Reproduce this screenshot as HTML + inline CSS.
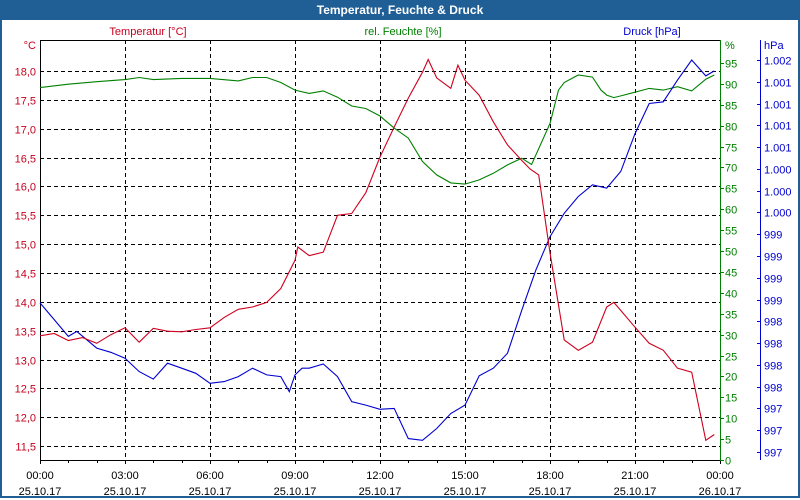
<!DOCTYPE html>
<html><head><meta charset="utf-8"><style>
html,body{margin:0;padding:0;background:#fff}
#wrap{position:relative;width:796px;height:496px;border:2px solid #1f5f95;border-top:none;background:#fff;overflow:hidden}
#title{position:absolute;left:0;top:0;width:796px;height:20px;background:#1f5f95;color:#fff;font:bold 12px "Liberation Sans",sans-serif;text-align:center;line-height:20px}
svg{position:absolute;left:-2px;top:0}
text{font-family:"Liberation Sans",sans-serif;font-size:11px}
</style></head><body>
<div id="wrap">
<div id="title">Temperatur, Feuchte &amp; Druck</div>
<svg id="chart" width="800" height="500"></svg>
</div>
<script>
const tempT=[0,0.5,1,1.5,2,2.5,3,3.5,4,4.5,5,5.5,6,6.5,7,7.5,8,8.5,9,9.1,9.5,10,10.5,11,11.5,12,12.5,13,13.5,13.7,14,14.5,14.75,15,15.5,16,16.5,17,17.3,17.6,18,18.5,19,19.5,20,20.25,20.5,21,21.5,22,22.5,23,23.5,23.8];
const tempV=[13.41,13.45,13.33,13.38,13.28,13.43,13.55,13.3,13.54,13.49,13.48,13.52,13.55,13.73,13.87,13.91,13.99,14.23,14.72,14.95,14.8,14.86,15.5,15.53,15.89,16.51,17.03,17.53,17.98,18.2,17.88,17.7,18.1,17.84,17.58,17.12,16.72,16.45,16.3,16.2,14.85,13.34,13.16,13.3,13.91,13.99,13.85,13.56,13.28,13.16,12.85,12.78,11.6,11.7];
const humT=[0,1,2,3,3.5,4,5,6,7,7.5,8,8.5,9,9.5,10,10.5,11,11.5,12,12.5,13,13.5,14,14.5,15,15.5,16,16.5,17,17.35,18,18.3,18.5,19,19.5,19.8,20,20.25,20.5,21,21.5,22,22.5,23,23.5,23.8];
const humV=[89.1,89.9,90.5,91.0,91.5,91.0,91.3,91.3,90.7,91.5,91.5,90.3,88.5,87.7,88.3,86.8,84.7,84.1,82.3,79.4,77.0,71.4,68.2,66.3,66.0,67.0,68.6,70.6,72.2,70.7,80.5,88.5,90.3,92.1,91.6,88.5,87.3,86.7,87.1,88.0,88.9,88.5,89.3,88.3,91.1,92.1];
const presT=[0,0.5,1,1.3,2,2.5,3,3.5,4,4.5,5,5.5,6,6.5,7,7.5,8,8.5,8.8,9,9.25,9.5,10,10.5,11,11.5,12,12.5,13,13.5,14,14.5,15,15.5,16,16.5,17,17.5,18,18.5,19,19.5,20,20.5,21,21.5,22,22.5,23,23.5,23.8];
const presV=[998.66,998.46,998.26,998.32,998.12,998.07,998.0,997.84,997.75,997.94,997.88,997.82,997.7,997.72,997.78,997.88,997.8,997.78,997.6,997.8,997.88,997.88,997.93,997.78,997.48,997.44,997.39,997.4,997.04,997.02,997.16,997.34,997.44,997.79,997.88,998.06,998.57,999.05,999.45,999.73,999.93,1000.07,1000.03,1000.23,1000.68,1001.04,1001.06,1001.32,1001.56,1001.37,1001.43];
const tempTicks=[18.0,17.5,17.0,16.5,16.0,15.5,15.0,14.5,14.0,13.5,13.0,12.5,12.0,11.5];
const humTicks=[0,5,10,15,20,25,30,35,40,45,50,55,60,65,70,75,80,85,90,95];
const presStart=996.88, presStep=0.26, presCount=19;
const timeLabels=["00:00","03:00","06:00","09:00","12:00","15:00","18:00","21:00","00:00"];
const dateLabels=["25.10.17","25.10.17","25.10.17","25.10.17","25.10.17","25.10.17","25.10.17","25.10.17","26.10.17"];

const L=40,R=720,T=40,B=460;
const X=h=>L+h*(R-L)/24;
const YT=v=>71+(18-v)*57.7;
const YH=v=>460-v*4.18;
const YP=v=>452-(v-presStart)/presStep*21.78;
const svg=document.getElementById('chart');
const NS='http://www.w3.org/2000/svg';
function mk(tag,attrs,parent){const e=document.createElementNS(NS,tag);for(const k in attrs)e.setAttribute(k,attrs[k]);(parent||svg).appendChild(e);return e;}
const grid=mk('g',{});


tempTicks.forEach(v=>{
  const y=Math.round(YT(v))+0.5;
  const gl=mk('line',{x1:L,x2:R,y1:y,y2:y,stroke:'#000','stroke-dasharray':'4,3'},grid);
  
  
  const t=mk('text',{x:36,y:y+4,'text-anchor':'end',fill:'#c8001e'});
  t.textContent=v.toFixed(1).replace('.',',');
  
  
});
for(let h=3;h<24;h+=3){
  const x=Math.round(X(h))+0.5;
  const gl=mk('line',{x1:x,x2:x,y1:T,y2:B,stroke:'#000','stroke-dasharray':'4,3'},grid);
  
  
}
for(let h=0;h<=24;h++){
  const x=Math.round(X(h))+0.5;
  const tk=mk('line',{x1:x,x2:x,y1:B,y2:B+(h%3==0?4:3),stroke:'#000'});
  
  
}
timeLabels.forEach((s,i)=>{
  const x=X(i*3);
  const a=mk('text',{x:x,y:479,'text-anchor':'middle',fill:'#000'});a.textContent=s;
  
  
  const b=mk('text',{x:x,y:495,'text-anchor':'middle',fill:'#000'});b.textContent=dateLabels[i];
  
  
});
// frame
const fr=mk('path',{d:`M${L+0.5},${B}V${T+0.5}H${R}M${L},${B+0.5}H${R}`,stroke:'#000',fill:'none'});


// humidity axis
const ha=mk('line',{x1:R+0.5,x2:R+0.5,y1:T,y2:B+1,stroke:'#008000'});


humTicks.forEach(v=>{
  const y=Math.round(YH(v))+0.5;
  const tk=mk('line',{x1:R,x2:R+4,y1:y,y2:y,stroke:'#008000'});
  
  
  const t=mk('text',{x:R+5,y:y+4,fill:'#008000'});t.textContent=v;
  
  
});
// pressure axis
const pa=mk('line',{x1:760.5,x2:760.5,y1:40,y2:460,stroke:'#0000d0'});


for(let i=0;i<presCount;i++){
  const v=presStart+i*presStep;const y=Math.round(YP(v))+0.5;
  const tk=mk('line',{x1:757,x2:761,y1:y,y2:y,stroke:'#0000d0'});
  
  
  const r=Math.round(v);
  const t=mk('text',{x:764,y:y+4,fill:'#0000d0'});
  t.textContent=r>=1000?('1.'+String(r-1000).padStart(3,'0')):String(r);
  
  
}
// titles
[[148,'Temperatur [°C]','#c8001e','temp-legend'],[403,'rel. Feuchte [%]','#008000','humidity-legend'],[652,'Druck [hPa]','#0000d0','pressure-legend']].forEach(a=>{
  const t=mk('text',{x:a[0],y:35,'text-anchor':'middle',fill:a[2]});t.textContent=a[1];
  
  
});
[[36,'°C','#c8001e','end','temp-unit'],[725,'%','#008000','start','humidity-unit'],[764,'hPa','#0000d0','start','pressure-unit']].forEach(a=>{
  const t=mk('text',{x:a[0],y:49,'text-anchor':a[3],fill:a[2]});t.textContent=a[1];
  
  
});
function series(ts,vs,yf,col,name){
  const d=ts.map((t,i)=>(i?'L':'M')+X(t).toFixed(1)+','+yf(vs[i]).toFixed(1)).join('');
  const p=mk('path',{d:d,stroke:col,fill:'none','stroke-width':1.1});
  
  
}
series(humT,humV,YH,'#008000','humidity-line');
series(presT,presV,YP,'#0000d0','pressure-line');
series(tempT,tempV,YT,'#d0001e','temperature-line');
</script>
</body></html>
